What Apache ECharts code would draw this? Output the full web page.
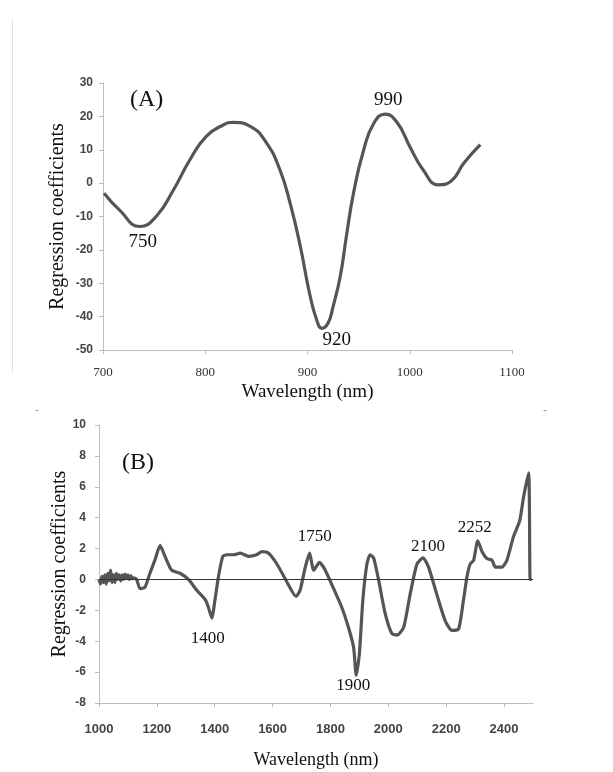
<!DOCTYPE html>
<html lang="en">
<head>
    <meta charset="UTF-8">
    <title>Regression coefficients</title>
    <script src="https://cdn.jsdelivr.net/npm/echarts@6/dist/echarts.min.js"></script>
    <style>
        html, body { margin: 0; padding: 0; background: #fff; }
    </style>
</head>
<body>
<div id="main" style="width: 613px;height: 772px;"></div>
<script type="text/javascript">

    // (A) 700-1100 nm curve: [wavelength, coefficient]
    var curveA = [
        [701, -3], [716, -8], [736, -13], [752, -10], [769, -2], [785, 7],
        [801, 14], [818, 17.5], [827, 18.2], [844, 17], [860, 12], [873, 4],
        [883, -6], [893, -19], [902, -33], [909, -41], [914, -43.5], [920, -42],
        [925, -37], [932, -28], [938, -16], [945, -3], [955, 10], [965, 18],
        [976, 20.7], [988, 18], [1000, 11], [1013, 4], [1028, -0.5], [1040, 0.5],
        [1053, 6], [1069, 11.5]
    ];

    // (B) 1000-2500 nm curve
    var curveB = [
        [1000, 0], [1005, -0.3], [1010, 0.2], [1015, -0.2], [1020, 0.3], [1025, -0.3],
        [1030, 0.4], [1035, -0.1], [1040, 0.6], [1045, -0.2], [1050, 0.3], [1055, -0.2],
        [1060, 0.4], [1065, 0], [1070, 0.3], [1075, -0.1], [1080, 0.3], [1085, 0],
        [1090, 0.35], [1095, 0.05], [1100, 0.3], [1105, 0], [1110, 0.25], [1115, 0.05],
        [1120, 0.1], [1130, 0], [1142, -0.6], [1159, -0.5], [1176, 0.4], [1194, 1.3],
        [1211, 2.2], [1228, 1.5], [1251, 0.6], [1280, 0.4], [1309, 0], [1338, -0.7],
        [1367, -1.3], [1378, -1.8], [1390, -2.5], [1401, -1.3], [1413, 0.2], [1428, 1.5],
        [1442, 1.6], [1465, 1.6], [1488, 1.7], [1517, 1.5], [1545, 1.6], [1563, 1.8],
        [1586, 1.7], [1615, 1.0], [1649, -0.15], [1681, -1.1], [1695, -0.7], [1713, 0.8],
        [1728, 1.7], [1742, 0.6], [1762, 1.1], [1782, 0.6], [1811, -0.6], [1839, -1.8],
        [1862, -3.1], [1880, -4.4], [1889, -6.2], [1900, -4.8], [1912, -1.3], [1926, 1.0],
        [1937, 1.6], [1949, 1.4], [1966, 0], [1989, -2.2], [2012, -3.5], [2030, -3.6],
        [2053, -3.1], [2076, -0.9], [2099, 1.0], [2120, 1.4], [2139, 0.8], [2168, -1.0],
        [2197, -2.7], [2220, -3.3], [2243, -3.2], [2260, -1.3], [2272, 0.2], [2283, 1.0],
        [2295, 1.25], [2309, 2.5], [2324, 1.8], [2341, 1.35], [2358, 1.25], [2370, 0.8],
        [2393, 0.8], [2410, 1.25], [2433, 2.8], [2454, 3.8], [2468, 5.4], [2485, 6.9],
        [2490, 0], [2495, 0]
    ];

    // annotated peaks: [wavelength, coefficient, text]
    var peaksA = [[736, -13, '750'], [914, -43.5, '920'], [976, 20.7, '990']];
    var peaksB = [[1390, -2.5, '1400'], [1728, 1.7, '1750'], [1889, -6.2, '1900'],
                  [2120, 1.4, '2100'], [2309, 2.5, '2252']];

    // tick values
    var ticksAx = [700, 800, 900, 1000, 1100];
    var ticksBx = [1000, 1200, 1400, 1600, 1800, 2000, 2200, 2400];

    // label offsets (px) for the peak labels
    var offA = [[3, 16], [15, 12], [3, -14]];
    var offB = [[-4, 20], [5, -17], [-3, 10], [5, -11], [-3, -13]];

    var serif = '"Liberation Serif", "DejaVu Serif", serif';
    var sans = '"Liberation Sans", Arial, sans-serif';
    var lineColor = '#555';
    var axisGrey = '#bdbdbd';

    function plain(v) { return String(v); }

    function peakMarks(peaks, offs) {
        return peaks.map(function (p, i) {
            return {
                coord: [p[0], p[1]],
                value: p[2],
                label: { offset: offs[i] }
            };
        });
    }

    function markPointOpt(peaks, offs, size) {
        return {
            symbol: 'circle',
            symbolSize: 0,
            silent: true,
            label: {
                show: true,
                position: 'inside',
                formatter: '{c}',
                fontFamily: serif,
                fontSize: size,
                color: '#111'
            },
            data: peakMarks(peaks, offs)
        };
    }

    function yAxisBase(gridIndex, min, max, interval, margin, gap) {
        return {
            type: 'value', gridIndex: gridIndex,
            min: min, max: max, interval: interval,
            name: 'Regression coefficients',
            nameLocation: 'middle',
            nameGap: gap,
            nameMoveOverlap: false,
            nameTextStyle: { fontFamily: serif, fontSize: 20, color: '#111' },
            axisLine: { show: true, lineStyle: { color: axisGrey } },
            axisTick: { show: true, length: 4, lineStyle: { color: axisGrey } },
            axisLabel: { fontFamily: sans, fontSize: 12, fontWeight: 'bold', color: '#444',
                         margin: margin, formatter: plain },
            splitLine: { show: false }
        };
    }

    var option = {
        backgroundColor: '#fff',
        animation: false,
        grid: [
            { left: 103, top: 83, width: 409, height: 267 },
            { left: 99, top: 425, width: 434, height: 278 }
        ],
        xAxis: [{
            type: 'value', gridIndex: 0,
            min: 700, max: 1100, interval: 100,
            name: 'Wavelength (nm)',
            nameLocation: 'middle',
            nameGap: 33,
            nameTextStyle: { fontFamily: serif, fontSize: 19, color: '#111' },
            axisLine: { onZero: false, lineStyle: { color: axisGrey } },
            axisTick: { length: 4, lineStyle: { color: axisGrey } },
            axisLabel: {
                fontFamily: serif, fontSize: 13, color: '#333', margin: 16,
                customValues: ticksAx, formatter: plain
            },
            splitLine: { show: false }
        }, {
            type: 'value', gridIndex: 1,
            min: 1000, max: 2500, interval: 100,
            name: 'Wavelength (nm)',
            nameLocation: 'middle',
            nameGap: 48,
            nameTextStyle: { fontFamily: serif, fontSize: 18, color: '#111' },
            axisLine: { onZero: false, lineStyle: { color: axisGrey } },
            axisTick: { length: 4, lineStyle: { color: axisGrey }, customValues: ticksBx },
            axisLabel: {
                fontFamily: sans, fontSize: 13, fontWeight: 'bold', color: '#444', margin: 20,
                customValues: ticksBx, formatter: plain
            },
            splitLine: { show: false }
        }],
        yAxis: [
            yAxisBase(0, -50, 30, 10, 10, 35),
            yAxisBase(1, -8, 10, 2, 13, 29)
        ],
        series: [{
            type: 'line', xAxisIndex: 0, yAxisIndex: 0,
            data: curveA,
            smooth: 0.5,
            showSymbol: false,
            lineStyle: { color: lineColor, width: 3.2 },
            markPoint: markPointOpt(peaksA, offA, 19)
        }, {
            type: 'line', xAxisIndex: 1, yAxisIndex: 1,
            data: curveB,
            smooth: 0.2,
            showSymbol: false,
            lineStyle: { color: lineColor, width: 3.2 },
            markPoint: markPointOpt(peaksB, offB, 17),
            markLine: {
                silent: true,
                symbol: 'none',
                label: { show: false },
                lineStyle: { color: '#333', width: 1, type: 'solid' },
                data: [{ yAxis: 0 }]
            }
        }],
        graphic: [
            { type: 'text', left: 130, top: 88,
              style: { text: '(A)', fontFamily: serif, fontSize: 24, fill: '#111' } },
            { type: 'text', left: 122, top: 451,
              style: { text: '(B)', fontFamily: serif, fontSize: 24, fill: '#111' } },
            { type: 'line', shape: { x1: 12.5, y1: 19, x2: 12.5, y2: 372 },
              style: { stroke: '#e2e2e2', lineWidth: 1 } },
            { type: 'text', left: 35, top: 405,
              style: { text: '-', fontFamily: sans, fontSize: 12, fill: '#999' } },
            { type: 'text', left: 543, top: 405,
              style: { text: '-', fontFamily: sans, fontSize: 12, fill: '#999' } }
        ]
    };

    var myChart = echarts.init(document.getElementById('main'));
    myChart.setOption(option);
</script>
</body>
</html>
